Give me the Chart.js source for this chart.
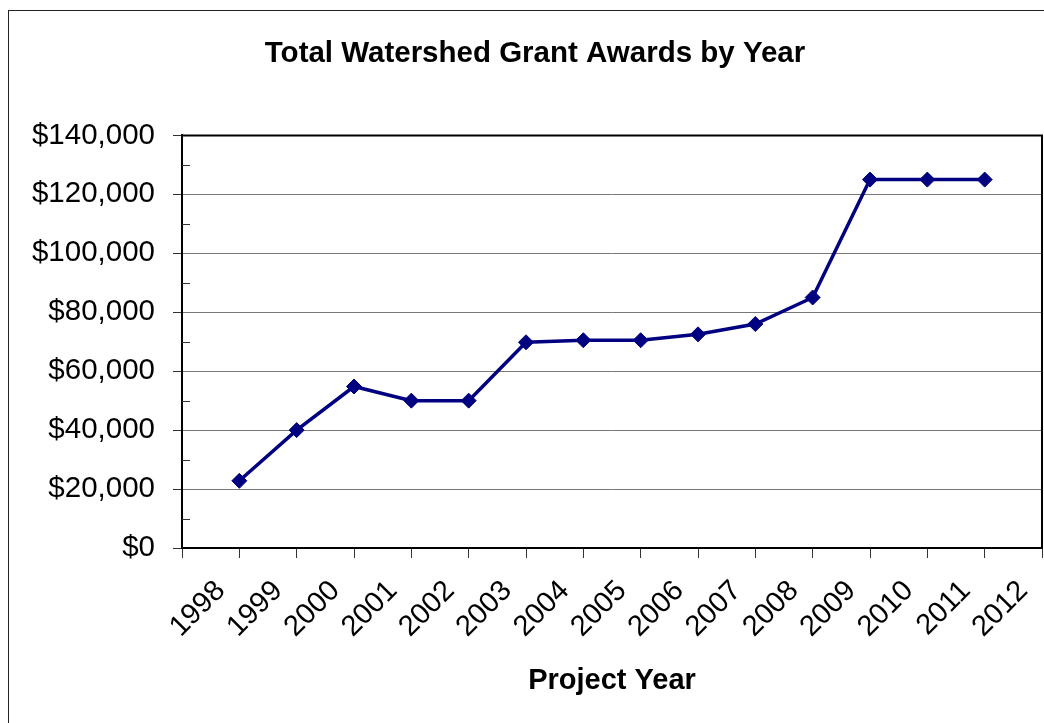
<!DOCTYPE html>
<html>
<head>
<meta charset="utf-8">
<script src="https://cdn.jsdelivr.net/npm/chart.js@4/dist/chart.umd.min.js"></script>
<style>
  html, body { margin: 0; padding: 0; background: #fff; overflow: hidden; }
  #wrap { width: 1044px; height: 723px; overflow: hidden; }
  canvas { display: block; }
</style>
</head>
<body>
<div id="wrap"><canvas id="grantChart" width="1070" height="723"></canvas></div>
<script>
const years = ['1998', '1999', '2000', '2001', '2002', '2003', '2004', '2005', '2006', '2007', '2008', '2009', '2010', '2011', '2012'];
const awardYears = ['1998', '1999', '2000', '2001', '2002', '2003', '2004', '2005', '2006', '2007', '2008', '2009', '2010', '2011'];
const awards = [22800, 40000, 54800, 50000, 50000, 69800, 70500, 70500, 72500, 76000, 85000, 125000, 125000, 125000];
const yTicks = [0, 20000, 40000, 60000, 80000, 100000, 120000, 140000];
const yMinorTicks = [10000, 30000, 50000, 70000, 90000, 110000, 130000];

const FONT = '"Liberation Sans", Arial, sans-serif';

// points sit on the tick mark at the right edge of each year's slot
const points = awardYears.map((yr, i) => ({ x: years.indexOf(yr) + 1, y: awards[i] }));

const frame = {
  id: 'frame',
  beforeDraw(chart) {
    const ctx = chart.ctx;
    ctx.save();
    ctx.fillStyle = '#fff';
    ctx.fillRect(0, 0, chart.width, chart.height);
    ctx.strokeStyle = '#222';
    ctx.lineWidth = 1;
    ctx.strokeRect(8.5, 10.5, chart.width - 17, chart.height + 20);
    ctx.restore();
  },
  afterDatasetsDraw(chart) {
    const ctx = chart.ctx;
    const a = chart.chartArea;
    const y = chart.scales.y;
    ctx.save();
    ctx.strokeStyle = '#000';
    ctx.lineWidth = 2;
    ctx.beginPath();
    ctx.moveTo(a.left, a.top);
    ctx.lineTo(a.right, a.top);
    ctx.lineTo(a.right, a.bottom);
    ctx.stroke();
    // minor ticks on the value axis, inside the plot
    ctx.lineWidth = 1;
    ctx.strokeStyle = '#333';
    ctx.beginPath();
    yMinorTicks.forEach(v => {
      const py = Math.round(y.getPixelForValue(v)) + 0.5;
      ctx.moveTo(a.left, py);
      ctx.lineTo(a.left + 8, py);
    });
    ctx.stroke();
    ctx.restore();
  }
};

const config = {
  type: 'line',
  data: {
    labels: years,
    datasets: [{
      label: 'Total Awards',
      data: points,
      xAxisID: 'x2',
      borderColor: '#000080',
      backgroundColor: '#000080',
      borderWidth: 3.5,
      pointStyle: 'rectRot',
      pointRadius: 7.5,
      pointBorderWidth: 1,
      pointBackgroundColor: '#000080',
      pointBorderColor: '#000080',
      tension: 0
    }]
  },
  plugins: [frame],
  options: {
    responsive: false,
    animation: false,
    layout: { padding: 0 },
    plugins: {
      legend: { display: false },
      tooltip: { enabled: false },
      title: {
        display: true,
        text: 'Total Watershed Grant Awards by Year',
        color: '#000',
        font: { family: FONT, size: 29.5, weight: 'bold' },
        padding: { top: 36, bottom: 64 }
      }
    },
    scales: {
      x: {
        type: 'category',
        offset: true,
        grid: {
          offset: true,
          drawOnChartArea: false,
          drawTicks: true,
          tickLength: 10,
          tickColor: '#333'
        },
        border: { display: true, color: '#000', width: 2 },
        ticks: {
          autoSkip: false,
          maxRotation: 45,
          minRotation: 45,
          padding: 16,
          labelOffset: 10,
          color: '#000',
          font: { family: FONT, size: 29 }
        },
        title: {
          display: true,
          text: 'Project Year',
          color: '#000',
          font: { family: FONT, size: 29, weight: 'bold' },
          padding: { top: 0, bottom: 25 }
        },
        afterFit(scale) { scale.height = 175; }
      },
      x2: {
        type: 'linear',
        display: false,
        min: 0,
        max: years.length
      },
      y: {
        min: 0,
        max: 140000,
        afterBuildTicks(scale) { scale.ticks = yTicks.map(v => ({ value: v })); },
        grid: {
          color: '#777',
          lineWidth: 1,
          tickLength: 9,
          tickColor: '#333'
        },
        border: { display: true, color: '#000', width: 2 },
        ticks: {
          padding: 18,
          color: '#000',
          font: { family: FONT, size: 29.5 },
          callback: v => '$' + v.toLocaleString('en-US')
        },
        afterFit(scale) { scale.width = 182; }
      },
      // empty strip on the right so the plot stops where the reference does
      yRight: {
        type: 'linear',
        position: 'right',
        grid: { display: false, drawTicks: false },
        border: { display: false },
        ticks: { display: false },
        afterFit(scale) { scale.width = 28; }
      }
    }
  }
};

const grantChart = new Chart(document.getElementById('grantChart'), config);
</script>
</body>
</html>
